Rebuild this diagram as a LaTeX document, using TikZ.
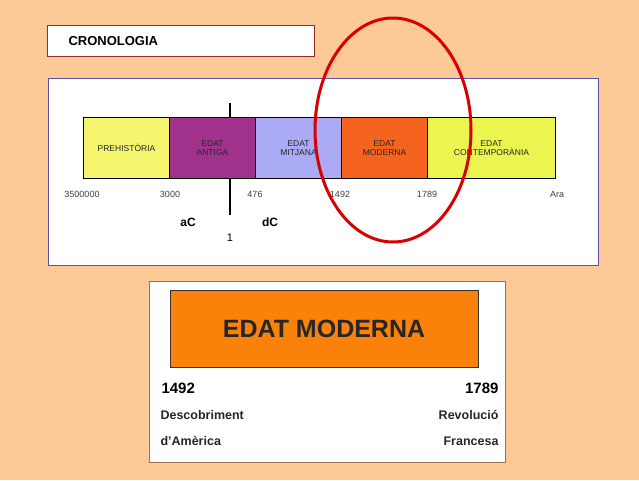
\documentclass[tikz,border=0pt]{standalone}
\usepackage{fontspec}
\setmainfont{Liberation Sans}
\begin{document}
\begin{tikzpicture}[x=1pt,y=-1pt,
 seg/.style={draw=black,line width=1pt,minimum height=61pt,inner sep=0pt,anchor=north west,font=\fontsize{8.5}{9.5}\selectfont,align=center,text=black!85},
 yr/.style={font=\fontsize{9}{10}\selectfont,text=black!75},
 big/.style={font=\bfseries\fontsize{15}{17}\selectfont}]
\fill[fill={rgb,255:red,252;green,201;blue,151}] (0,0) rectangle (639,480);
\useasboundingbox (0,0) rectangle (639,480);
\node[draw={rgb,255:red,150;green,40;blue,40},fill=white,minimum width=267pt,minimum height=31pt,anchor=north west,inner sep=0pt] (title) at (47,25) {};
\node[anchor=west,font=\bfseries\fontsize{13}{15}\selectfont] (tt) at (65,41) {CRONOLOGIA};
\node[draw={rgb,255:red,90;green,80;blue,170},line width=1pt,fill=white,minimum width=550pt,minimum height=187pt,anchor=north west,inner sep=0pt] (panel) at (48,78) {};
\coordinate (vt) at (230,103); \coordinate (vb) at (230,215);
\draw[line width=2.5pt] (vt) -- (vb);
\node[seg,fill={rgb,255:red,245;green,245;blue,110},minimum width=86pt] (s1) at (83,117) {PREHISTÒRIA};
\node[seg,fill={rgb,255:red,160;green,50;blue,140},minimum width=86pt] (s2) at (169,117) {EDAT\\ANTIGA};
\node[seg,fill={rgb,255:red,170;green,170;blue,245},minimum width=86pt] (s3) at (255,117) {EDAT\\MITJANA};
\node[seg,fill={rgb,255:red,245;green,100;blue,30},minimum width=86pt] (s4) at (341,117) {EDAT\\MODERNA};
\node[seg,fill={rgb,255:red,235;green,245;blue,80},minimum width=128pt] (s5) at (427,117) {EDAT\\CONTEMPORÀNIA};
\node[yr] (y1) at (82,194) {3500000};
\node[yr] (y2) at (170,194) {3000};
\node[yr] (y3) at (255,194) {476};
\node[yr] (y4) at (340,194) {1492};
\node[yr] (y5) at (427,194) {1789};
\node[yr] (y6) at (557,194) {Ara};
\node[font=\bfseries\fontsize{12}{14}\selectfont] (ac) at (188,222) {aC};
\node[font=\bfseries\fontsize{12}{14}\selectfont] (dc) at (270,222) {dC};
\node[font=\fontsize{11}{13}\selectfont] (one) at (230,238) {1};
\draw[red!85!black,line width=3pt] (393,130) ellipse [x radius=78, y radius=112];
\node[draw={rgb,255:red,160;green,110;blue,80},fill=white,minimum width=356pt,minimum height=181pt,anchor=north west,inner sep=0pt] (p2) at (149,281) {};
\node[draw=black!80,line width=1.2pt,fill={rgb,255:red,250;green,130;blue,10},minimum width=308pt,minimum height=77pt,anchor=north west,inner sep=0pt] (ob) at (170,290) {};
\node[font=\bfseries\fontsize{25}{28}\selectfont,text=black!85] (em) at (324,329) {EDAT MODERNA};
\node[big,anchor=west] (a1) at (158,388) {1492};
\node[big,anchor=east] (a2) at (502,388) {1789};
\node[font=\bfseries\fontsize{12.5}{26}\selectfont,anchor=north west,align=left,text=black!85] (d1) at (157,407) {Descobriment\\d'Amèrica};
\node[font=\bfseries\fontsize{12.5}{26}\selectfont,anchor=north east,align=right,text=black!85] (d2) at (502,407) {Revolució\\Francesa};
\end{tikzpicture}
\end{document}
